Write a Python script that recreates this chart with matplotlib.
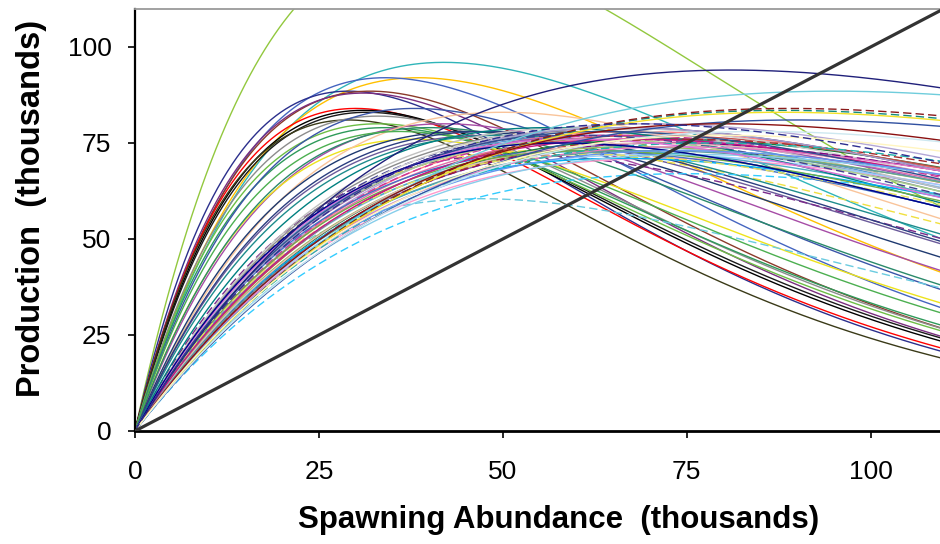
import numpy as np
import matplotlib
matplotlib.use("Agg")
import matplotlib.pyplot as plt

plt.rcParams['font.family'] = ['Liberation Sans', 'DejaVu Sans']

# Ricker stock-production curves, each given by the spawning abundance at
# peak production and the peak production itself (thousands of fish)
peak_spawners = [
    39, 42, 38.5, 34, 29, 32, 31, 30, 31, 31.5, 29, 33, 33, 34, 38, 42, 38, 40,
    50, 45, 48, 47, 36, 55, 52, 50, 48,
    60, 66, 62, 68, 66, 64, 66, 72, 70, 70, 66, 58, 75, 72, 70, 60, 62, 72, 64,
    60, 68, 60, 56, 64, 72, 74, 66, 66, 70, 62, 62, 68, 70, 74, 78, 64, 76, 60,
    58, 74,
    81, 95, 88, 89, 88, 90, 80, 85, 80, 68,
]
peak_production = [
    127, 96, 92, 92, 88.5, 88.5, 88, 84, 83.5, 83, 81, 82, 80, 79, 84, 80, 76, 79,
    83, 78, 77, 60.5, 78, 73, 72, 77, 78,
    78, 74, 77, 78, 76, 77, 79, 76, 77, 80, 77, 75, 67, 71, 72, 73, 76, 75, 73,
    79, 74, 77, 79, 79, 75, 76, 71, 79, 75, 73, 72, 76, 73, 74, 75, 78, 72, 76,
    75, 73,
    94, 88.5, 83.5, 84, 83, 81, 80, 78, 77, 80,
]
curve_colors = [
    '#92C83E', '#2FB5B9', '#FFC000', '#4565C0', '#2B2F8C', '#8B3A2A', '#7A2E7F',
    '#FF0000', '#000000', '#1A1A1A', '#3A3A18', '#8C8C8C', '#6DBE45', '#2E9A5A',
    '#3A55A8', '#A64CA6', '#EDE31C', '#2A8A6A', '#F9C49A', '#1F3A70', '#6A5A9A',
    '#6ACBE0', '#4CAF50', '#F0E040', '#7A2A8A', '#1E8C8C', '#2C3E80',
    '#8C8C8C', '#9DC3E6', '#5B9BD5', '#FF7C80', '#E46CA8', '#9B59B6', '#7B2C6E',
    '#1B7F3B', '#C0504D', '#B4A7D6', '#CC3399', '#2E75B6', '#33CCFF', '#FF99CC',
    '#99CCFF', '#4472C4', '#A9D18E', '#8064A2', '#4BACC6', '#C0C0C0', '#9BBB59',
    '#404090', '#008080', '#D0D0D0', '#800080', '#A52A2A', '#00B0F0', '#A0A0D0',
    '#E6B9B8', '#70AD47', '#E8E060', '#C71585', '#5F9EA0', '#E377C2', '#20B2AA',
    '#2F4F8F', '#87CEEB', '#DA70D6', '#00008B', '#6495ED',
    '#1F1F7A', '#6FCDDC', '#138A7E', '#8B1A1A', '#F2E227', '#3050A0', '#8B1010',
    '#CDE8F0', '#FFF5C0', '#2E2E8F',
]
curve_dashed = [
    0, 0, 0, 0, 0, 0, 0, 0, 0, 0, 0, 0, 0, 0, 0, 0, 0, 0,
    0, 0, 0, 1, 0, 1, 1, 0, 0,
    0, 0, 0, 0, 0, 0, 0, 0, 0, 0, 1, 0, 1, 0, 0, 0, 0, 0, 0,
    0, 0, 1, 0, 0, 1, 1, 0, 0, 0, 0, 1, 0, 0, 0, 1, 0, 0, 0,
    0, 0,
    0, 0, 1, 1, 0, 0, 0, 0, 0, 1,
]

x_ticks = [0, 25, 50, 75, 100]
y_ticks = [0, 25, 50, 75, 100]
x_max, y_max = 110, 110

spawners = np.linspace(0, x_max, 500)

fig = plt.figure(figsize=(9.4, 5.44), dpi=100)
left_px, bottom_px, px_per_x, px_per_y = 135, 431, 7.356, 3.84
ax = fig.add_axes([left_px / 940, 1 - bottom_px / 544,
                   x_max * px_per_x / 940, y_max * px_per_y / 544])

for smax, rmax, color, dashed in zip(peak_spawners, peak_production,
                                     curve_colors, curve_dashed):
    production = rmax * (spawners / smax) * np.exp(1 - spawners / smax)
    ax.plot(spawners, production, color=color, lw=1.0,
            ls=(0, (6, 3)) if dashed else '-', solid_capstyle='butt')

# replacement line (production equals spawning abundance)
ax.plot(spawners, spawners, color='#333333', lw=2.3, zorder=5)

ax.set_xlim(0, x_max)
ax.set_ylim(0, y_max)
ax.set_xticks(x_ticks)
ax.set_yticks(y_ticks)
ax.tick_params(axis='both', direction='out', length=5, width=1.2,
               labelsize=19, color='black')
ax.tick_params(axis='x', pad=16)
ax.tick_params(axis='y', pad=12)

for side in ('left', 'bottom'):
    ax.spines[side].set_color('black')
ax.spines['left'].set_linewidth(1.6)
ax.spines['bottom'].set_linewidth(2.0)
ax.spines['top'].set_color('#9A9A9A')
ax.spines['top'].set_linewidth(1.3)
ax.spines['right'].set_visible(False)

ax.set_xlabel('Spawning Abundance  (thousands)', fontsize=22.5,
              fontweight='bold', labelpad=15)
ax.xaxis.label.set_x(0.523)
ax.set_ylabel('Production  (thousands)', fontsize=23.5, fontweight='bold',
              labelpad=15)
ax.yaxis.label.set_y(0.526)

fig.savefig('out.png', dpi=100)
